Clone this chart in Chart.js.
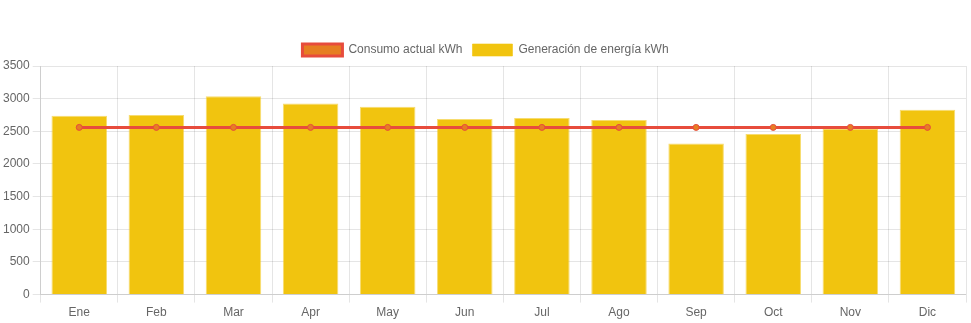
<!DOCTYPE html>
<html>
<head>
<meta charset="utf-8">
<script src="https://cdn.jsdelivr.net/npm/chart.js@4"></script>
<style>
    html, body { margin: 0; padding: 0; background: #fff; }
    #wrap { width: 971px; height: 323px; }
</style>
</head>
<body>
<div id="wrap"><canvas id="myChart"></canvas></div>
<script>
const labels = ['Ene', 'Feb', 'Mar', 'Apr', 'May', 'Jun', 'Jul', 'Ago', 'Sep', 'Oct', 'Nov', 'Dic'];
const consumo = [2560, 2560, 2560, 2560, 2560, 2560, 2560, 2560, 2560, 2560, 2560, 2560];
const generacion = [2740, 2750, 3035, 2925, 2875, 2690, 2705, 2675, 2315, 2460, 2545, 2830];

const data = {
    labels: labels,
    datasets: [{
        type: 'line',
        label: 'Consumo actual kWh',
        data: consumo,
        borderColor: '#e74c3c',
        backgroundColor: '#e67e22',
        borderWidth: 3,
        pointRadius: 3,
        pointBorderWidth: 1,
        fill: false,
        order: 0
    }, {
        type: 'bar',
        label: 'Generación de energía kWh',
        data: generacion,
        backgroundColor: '#f1c40f',
        borderColor: 'rgba(241, 196, 15, 0.6)',
        borderWidth: 1,
        order: 1
    }]
};

const config = {
    type: 'bar',
    data: data,
    options: {
        responsive: true,
        maintainAspectRatio: false,
        animation: false,
        layout: {
            padding: { top: 34 }
        },
        plugins: {
            legend: {
                position: 'top'
            }
        },
        scales: {
            y: {
                min: 0,
                max: 3500,
                ticks: {
                    stepSize: 500,
                    callback: function (value) { return value; }
                }
            }
        }
    }
};

var myChart = new Chart(document.getElementById('myChart'), config);
</script>
</body>
</html>
